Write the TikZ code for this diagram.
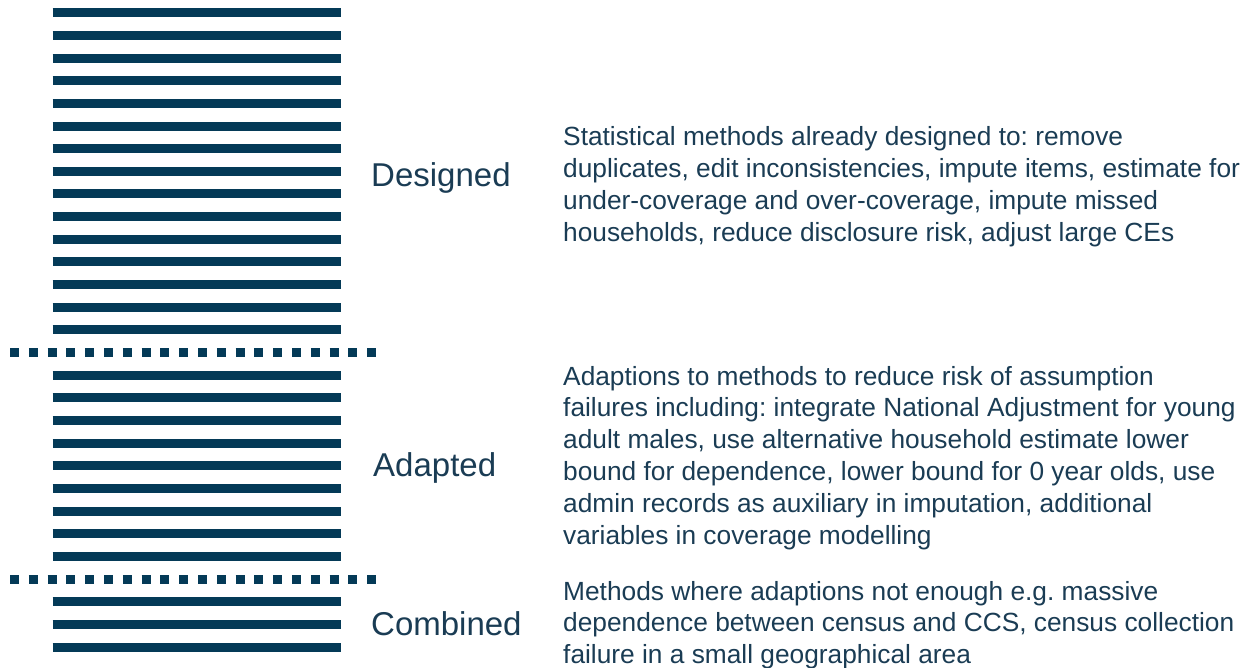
\documentclass[tikz,border=0pt]{standalone}
\usepackage{fontspec}
\setmainfont{Liberation Sans}
\frenchspacing
\definecolor{navy}{RGB}{4,58,87}
\definecolor{ink}{RGB}{26,60,84}
\begin{document}
\begin{tikzpicture}[x=1pt,y=-1pt,
  stripe/.style={navy,line width=9pt},
  divider/.style={navy,line width=9pt,dash pattern=on 9pt off 9.8pt},
  tier/.style={anchor=base west,inner sep=0pt,text=ink,font=\fontsize{33}{40}\selectfont},
  note/.style={anchor=base west,inner sep=0pt,text=ink,align=left,
    font=\fontsize{26.3}{31.8}\selectfont}]
\useasboundingbox (0,0) rectangle (1246,668);
% solid stripes: 15 designed, 9 adapted, 3 combined
\foreach \k in {0,...,14,16,17,...,24,26,27,28}
  \draw[stripe] (52.7,12.8+22.65*\k) -- (340.7,12.8+22.65*\k);
% dotted separators between the tiers
\foreach \k in {15,25}
  \draw[divider] (10,12.8+22.65*\k) -- (377,12.8+22.65*\k);
% tier names
\node[tier] (designed) at (371,187) {Designed};
\node[tier] (adapted) at (373,476) {Adapted};
\node[tier] (combined) at (371,635) {Combined};
% descriptions (anchored at the baseline of their last line)
\node[note] (dnote) at (563,241.4) {Statistical methods already designed to: remove\\
duplicates, edit inconsistencies, impute items, estimate for\\
under-coverage and over-coverage, impute missed\\
households, reduce disclosure risk, adjust large CEs};
\node[note] (anote) at (563,544) {Adaptions to methods to reduce risk of assumption\\
failures including: integrate National Adjustment for young\\
adult males, use alternative household estimate lower\\
bound for dependence, lower bound for 0 year olds, use\\
admin records as auxiliary in imputation, additional\\
variables in coverage modelling};
\node[note] (cnote) at (563,663.6) {Methods where adaptions not enough e.g. massive\\
dependence between census and CCS, census collection\\
failure in a small geographical area};
\end{tikzpicture}
\end{document}
